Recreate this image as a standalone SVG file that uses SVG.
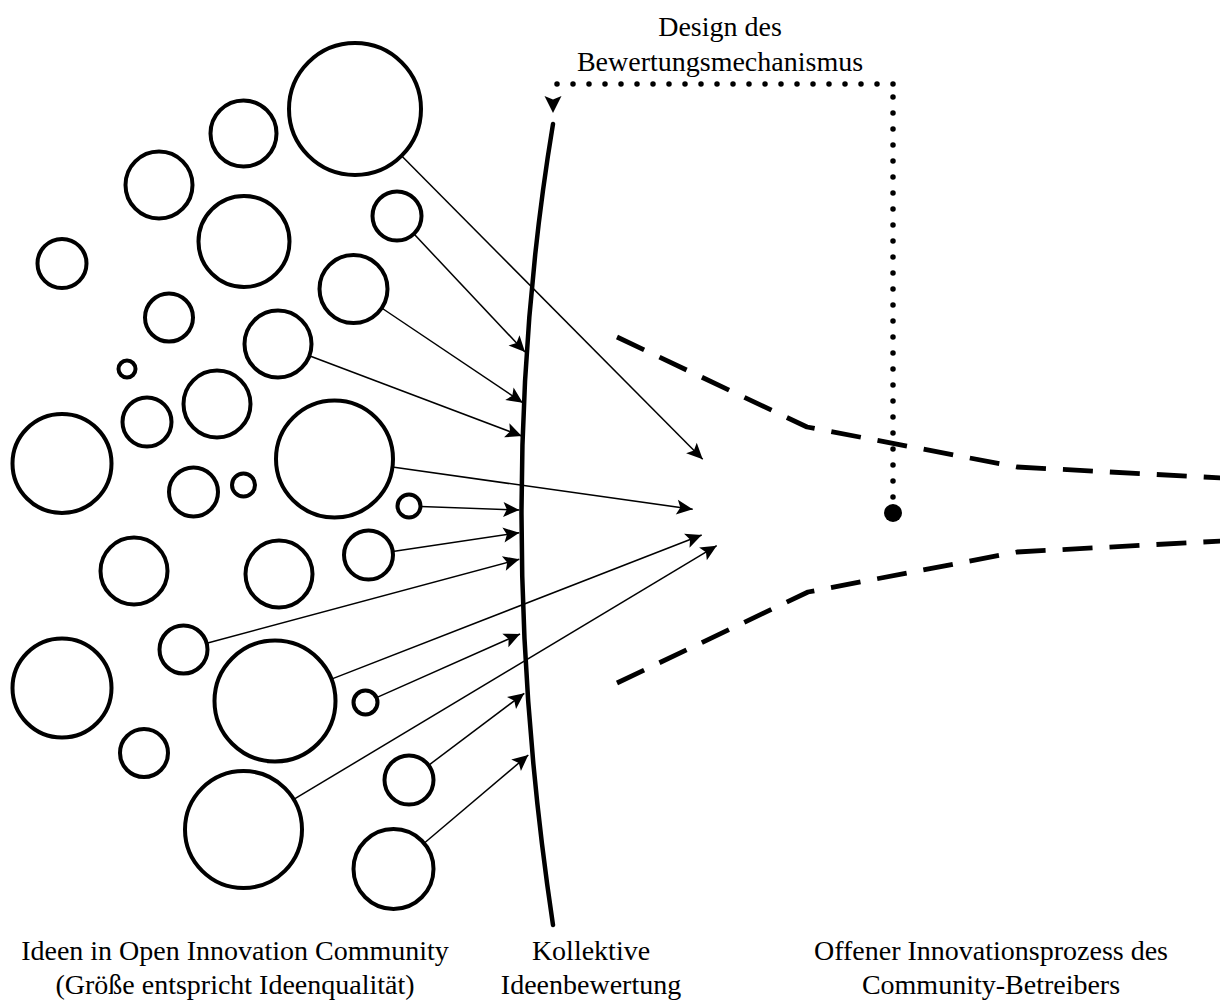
<svg xmlns="http://www.w3.org/2000/svg" width="1220" height="1003" viewBox="0 0 1220 1003">
  <style>
    .idea { fill: #fff; stroke: #000; stroke-width: 4; }
    .conn { fill: none; stroke: #000; stroke-width: 1.5; marker-end: url(#arrow); }
    .filter { fill: none; stroke: #000; stroke-width: 4.5; stroke-linecap: round; }
    .funnel { fill: none; stroke: #000; stroke-width: 4.8; stroke-dasharray: 30 17; stroke-linejoin: round; }
    .dots { fill: none; stroke: #000; stroke-width: 5.5; stroke-dasharray: 0 16; stroke-linecap: round; }
    .label { font-family: "Liberation Serif", "Times New Roman", serif; font-size: 28px; fill: #000; text-anchor: middle; }
  </style>
  <defs>
    <marker id="arrow" viewBox="-17 -9 18 18" markerWidth="18" markerHeight="18" refX="0" refY="0" orient="auto" markerUnits="userSpaceOnUse">
      <path d="M0,0 L-16,-7.5 L-12.5,0 L-16,7.5 Z" fill="#000"/>
    </marker>
    <marker id="arrow-lg" viewBox="-18 -10 19 20" markerWidth="19" markerHeight="20" refX="0" refY="0" orient="auto" markerUnits="userSpaceOnUse">
      <path d="M0,0 L-17,-8.5 L-13.5,0 L-17,8.5 Z" fill="#000"/>
    </marker>
  </defs>

  <rect width="1220" height="1003" fill="#fff"/>

  <!-- ideas in the community, circle size = idea quality -->
  <g id="ideas">
    <g id="idea-01"><circle class="idea" cx="355" cy="109" r="66"/></g>
    <g id="idea-02"><circle class="idea" cx="243.5" cy="133.5" r="33"/></g>
    <g id="idea-03"><circle class="idea" cx="159" cy="185" r="33.5"/></g>
    <g id="idea-04"><circle class="idea" cx="244" cy="241.5" r="45.5"/></g>
    <g id="idea-05"><circle class="idea" cx="397" cy="216" r="24.5"/></g>
    <g id="idea-06"><circle class="idea" cx="62" cy="263.5" r="24.5"/></g>
    <g id="idea-07"><circle class="idea" cx="169" cy="317.5" r="24"/></g>
    <g id="idea-08"><circle class="idea" cx="278" cy="344" r="33.5"/></g>
    <g id="idea-09"><circle class="idea" cx="353.5" cy="289" r="34"/></g>
    <g id="idea-10"><circle class="idea" cx="127" cy="369" r="8.5"/></g>
    <g id="idea-11"><circle class="idea" cx="147" cy="422" r="24.5"/></g>
    <g id="idea-12"><circle class="idea" cx="217" cy="404" r="33.5"/></g>
    <g id="idea-13"><circle class="idea" cx="62" cy="463.5" r="49.5"/></g>
    <g id="idea-14"><circle class="idea" cx="193.5" cy="492" r="24.5"/></g>
    <g id="idea-15"><circle class="idea" cx="243.5" cy="485" r="11.5"/></g>
    <g id="idea-16"><circle class="idea" cx="334.5" cy="459" r="58.5"/></g>
    <g id="idea-17"><circle class="idea" cx="409" cy="506" r="11.5"/></g>
    <g id="idea-18"><circle class="idea" cx="368.5" cy="555" r="24.5"/></g>
    <g id="idea-19"><circle class="idea" cx="134" cy="571" r="33.5"/></g>
    <g id="idea-20"><circle class="idea" cx="279" cy="574" r="33.5"/></g>
    <g id="idea-21"><circle class="idea" cx="183.5" cy="649.5" r="24"/></g>
    <g id="idea-22"><circle class="idea" cx="62" cy="688" r="49.5"/></g>
    <g id="idea-23"><circle class="idea" cx="275" cy="701" r="60.5"/></g>
    <g id="idea-24"><circle class="idea" cx="365.5" cy="702.5" r="12"/></g>
    <g id="idea-25"><circle class="idea" cx="144" cy="753" r="24"/></g>
    <g id="idea-26"><circle class="idea" cx="409" cy="780" r="24.5"/></g>
    <g id="idea-27"><circle class="idea" cx="243.5" cy="829.5" r="58.5"/></g>
    <g id="idea-28"><circle class="idea" cx="393.5" cy="869" r="40"/></g>
  </g>

  <!-- collective evaluation barrier -->
  <g id="evaluation">
    <path class="filter" d="M553 124 Q490 504 553 925"/>
  </g>

  <!-- open innovation process funnel -->
  <g id="process">
    <path class="funnel" d="M617 337 L807 427 L1017 467 L1222 478"/>
    <path class="funnel" d="M617 683 L808 592 L1017 552 L1222 541"/>
    <circle cx="893" cy="513" r="9" fill="#000"/>
  </g>

  <!-- connectors -->
  <g id="connectors">
    <path class="conn" d="M401.5 155.8 L702.7 459.3"/>
    <path class="conn" d="M413.8 233.8 L525 352"/>
    <path class="conn" d="M381.7 308 L522.7 402.7"/>
    <path class="conn" d="M309.3 355.8 L521.7 436"/>
    <path class="conn" d="M392.4 467.1 L692.7 509.3"/>
    <path class="conn" d="M420.5 506.4 L519.3 510"/>
    <path class="conn" d="M392.7 551.4 L519.3 532.7"/>
    <path class="conn" d="M206.7 643.3 L519.3 559.3"/>
    <path class="conn" d="M331.4 679.1 L701.7 535"/>
    <path class="conn" d="M376.5 697.6 L520 634"/>
    <path class="conn" d="M293.7 799.4 L716.7 545.7"/>
    <path class="conn" d="M428.6 765.3 L524.3 693.3"/>
    <path class="conn" d="M424.1 843.2 L528.3 755"/>
    <!-- feedback: process owner designs the evaluation mechanism -->
    <path class="dots" d="M893 513 V84"/>
    <path class="dots" d="M893 84 H553"/>
    <path d="M553 92 V113" fill="none" stroke="none" marker-end="url(#arrow-lg)"/>
  </g>

  <!-- labels -->
  <g id="labels">
    <text class="label" x="720" y="36">Design des</text>
    <text class="label" x="720" y="71">Bewertungsmechanismus</text>
    <text class="label" x="235" y="960">Ideen in Open Innovation Community</text>
    <text class="label" x="235" y="994">(Größe entspricht Ideenqualität)</text>
    <text class="label" x="591" y="960">Kollektive</text>
    <text class="label" x="591" y="994">Ideenbewertung</text>
    <text class="label" x="991" y="960">Offener Innovationsprozess des</text>
    <text class="label" x="991" y="994">Community-Betreibers</text>
  </g>
</svg>
